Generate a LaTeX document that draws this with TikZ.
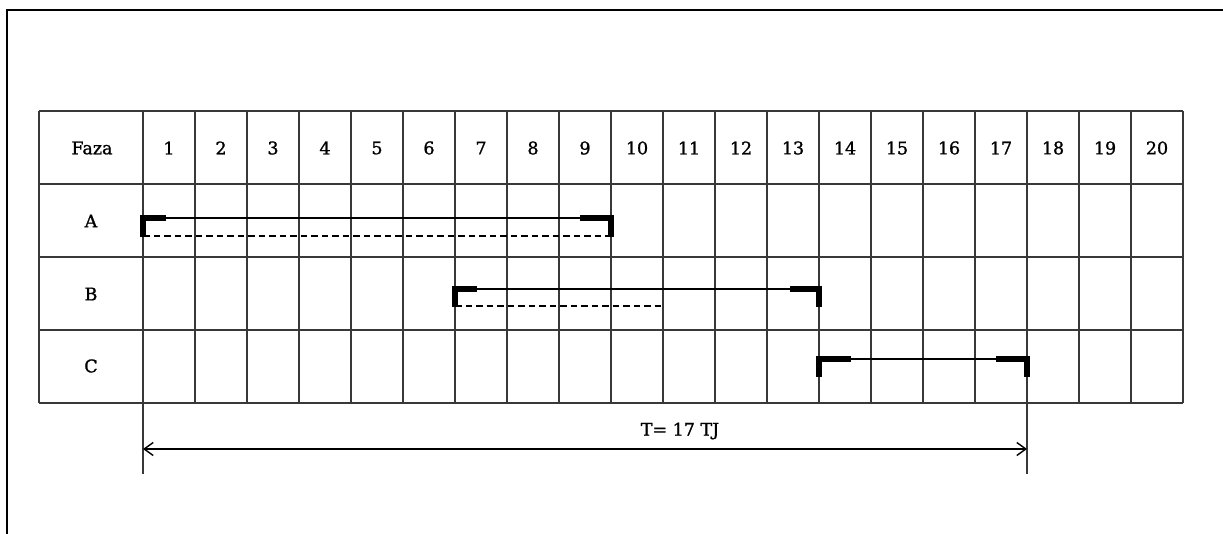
\documentclass[tikz,border=0pt]{standalone}
\usepackage{fontspec}
\setmainfont{DejaVu Serif}
\newfontfamily\labfont[FakeBold=1.2]{DejaVu Serif}
\usetikzlibrary{arrows.meta}
\begin{document}
\begin{tikzpicture}[x=1pt,y=-1pt,
  grid/.style={line width=1.9pt, draw=black!78},
  cell/.style={font=\labfont\fontsize{17.5}{19}\selectfont, inner sep=0pt},
  bar/.style={line width=1.4pt},
  plan/.style={line width=1.4pt, dash pattern=on 6.5pt off 4pt},
  brk/.style={line width=5.5pt, line cap=butt, line join=miter},
  dim/.style={line width=1.4pt, {Straight Barb[length=9pt,width=13pt]}-{Straight Barb[length=9pt,width=13pt]}},
]
\useasboundingbox (0,0) rectangle (1223,533);
\fill[white] (0,0) rectangle (1223,533);
\draw[line width=2.6pt] (7,545) -- (7,10) -- (1235,10);
% grid
\foreach \y in {111,184,257,330,403} \draw[grid] (39,\y) -- (1183,\y);
\draw[grid] (39,111) -- (39,403);
\foreach \i in {0,...,20} \draw[grid] ({143+52*\i},111) -- ({143+52*\i},403);
% header
\node[cell] (faza) at (92,148) {Faza};
\foreach \i in {1,...,20} \node[cell] (h\i) at ({143+52*\i-26},148) {\i};
\node[cell] (rowA) at (91,221) {A};
\node[cell] (rowB) at (91,294) {B};
\node[cell] (rowC) at (91,366) {C};
% phase A
\coordinate (As) at (143,218);
\coordinate (Ae) at (611,218);
\coordinate (Ads) at (143,236);
\coordinate (Ade) at (611,236);
\draw[bar] (As) -- (Ae);
\draw[plan] (Ads) -- (Ade);
\draw[brk] (166,218) -- (As) -- (143,237);
\draw[brk] (580,218) -- (Ae) -- (611,237);
% phase B
\coordinate (Bs) at (455,289);
\coordinate (Be) at (819,289);
\coordinate (Bds) at (455,306);
\coordinate (Bde) at (663,306);
\draw[bar] (Bs) -- (Be);
\draw[plan] (Bds) -- (Bde);
\draw[brk] (477,289) -- (Bs) -- (455,307);
\draw[brk] (790,289) -- (Be) -- (819,307);
% phase C
\coordinate (Cs) at (819,359);
\coordinate (Ce) at (1027,359);
\draw[bar] (Cs) -- (Ce);
\draw[brk] (851,359) -- (Cs) -- (819,377);
\draw[brk] (996,359) -- (Ce) -- (1027,377);
% dimension
\coordinate (e1t) at (143,403);
\coordinate (e1b) at (143,474);
\coordinate (e2t) at (1027,403);
\coordinate (e2b) at (1027,474);
\draw[grid] (e1t) -- (e1b);
\draw[grid] (e2t) -- (e2b);
\coordinate (d1) at (143,449);
\coordinate (d2) at (1027,449);
\draw[dim] (d1) -- (d2);
\node[cell] (T) at (680,431) {T= 17 TJ};
\end{tikzpicture}
\end{document}
